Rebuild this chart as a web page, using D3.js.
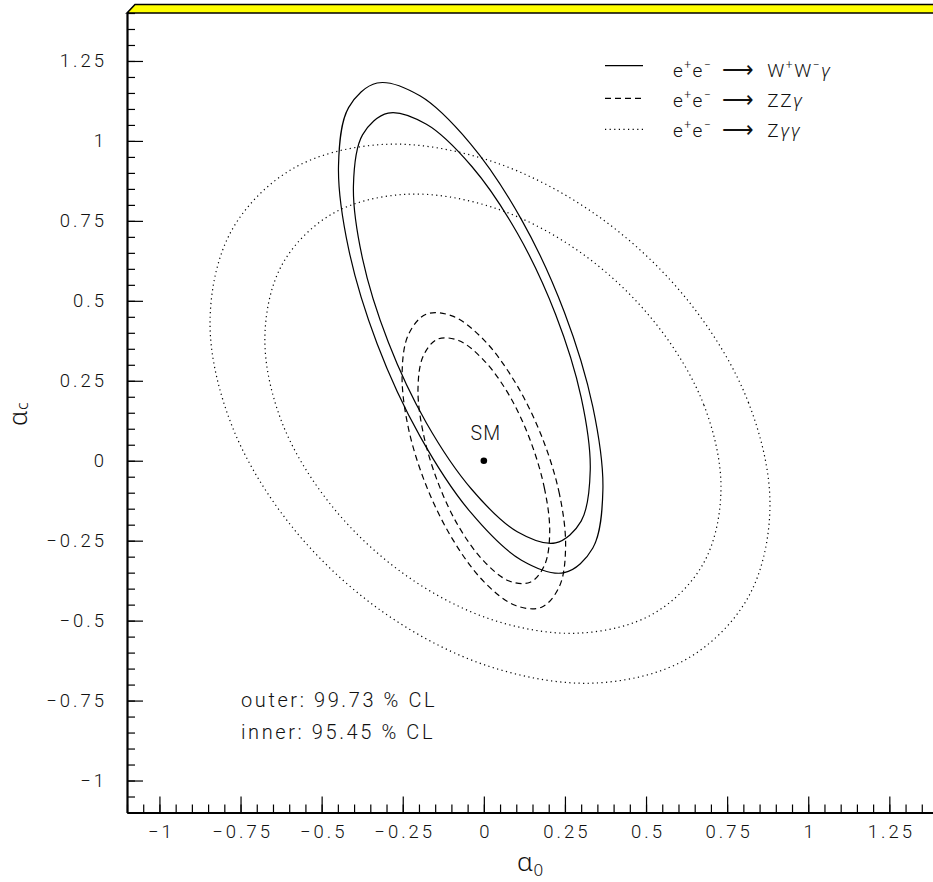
<!DOCTYPE html>
<html>
<head>
<meta charset="utf-8">
<script src="https://cdn.jsdelivr.net/npm/d3@7"></script>
<style>
  body { margin: 0; background: #fff; }
  text { font-family: Roboto, "Liberation Sans", sans-serif; font-weight: 300; fill: #111; }
</style>
</head>
<body>
<svg id="chart" width="933" height="882"></svg>
<script>
// contour points [a0, ac]
const wwOuter = [[0.367,-0.091],[0.336,0.168],[0.248,0.465],[0.116,0.754],[-0.041,0.991],[-0.197,1.141],
  [-0.329,1.181],[-0.417,1.104],[-0.448,0.922],[-0.417,0.663],[-0.329,0.366],[-0.197,0.077],[-0.041,-0.161],
  [0.116,-0.311],[0.248,-0.350],[0.336,-0.273]];
const wwInner = [[0.328,-0.029],[0.300,0.198],[0.221,0.458],[0.103,0.712],[-0.037,0.920],[-0.177,1.052],
  [-0.295,1.087],[-0.374,1.019],[-0.402,0.859],[-0.374,0.632],[-0.295,0.372],[-0.177,0.118],[-0.037,-0.090],
  [0.103,-0.222],[0.221,-0.257],[0.300,-0.189]];
const zzOuter = [[0.252,-0.269],[0.233,-0.104],[0.178,0.077],[0.096,0.246],[0,0.378],[-0.096,0.452],
  [-0.178,0.458],[-0.233,0.393],[-0.252,0.269],[-0.233,0.104],[-0.178,-0.077],[-0.096,-0.246],[0,-0.378],
  [0.096,-0.452],[0.178,-0.458],[0.233,-0.393]];
const zzInner = [[0.203,-0.224],[0.187,-0.087],[0.143,0.064],[0.078,0.205],[0,0.314],[-0.078,0.376],
  [-0.143,0.380],[-0.187,0.327],[-0.203,0.224],[-0.187,0.087],[-0.143,-0.064],[-0.078,-0.205],[0,-0.314],
  [0.078,-0.376],[0.143,-0.380],[0.187,-0.327]];
const zgOuter = [[0.882,-0.144],[0.816,0.181],[0.629,0.501],[0.349,0.767],[0.019,0.938],[-0.311,0.989],
  [-0.591,0.912],[-0.778,0.719],[-0.844,0.438],[-0.778,0.113],[-0.591,-0.207],[-0.311,-0.473],[0.019,-0.644],
  [0.349,-0.695],[0.629,-0.618],[0.816,-0.425]];
const zgInner = [[0.731,-0.090],[0.678,0.175],[0.525,0.435],[0.297,0.652],[0.028,0.792],[-0.241,0.833],
  [-0.469,0.771],[-0.622,0.613],[-0.675,0.384],[-0.622,0.119],[-0.469,-0.141],[-0.241,-0.358],[0.028,-0.498],
  [0.297,-0.539],[0.525,-0.477],[0.678,-0.319]];

const xTicks = [-1, -0.75, -0.5, -0.25, 0, 0.25, 0.5, 0.75, 1, 1.25];
const yTicks = [-1, -0.75, -0.5, -0.25, 0, 0.25, 0.5, 0.75, 1, 1.25];
const smPoint = [0, 0];

// legend: product parts [text, kind]
const products = [
  [["W", ""], ["+", "sup"], ["W", ""], ["\u2212", "sup"], ["\u03b3", "it"]],
  [["ZZ", ""], ["\u03b3", "it"]],
  [["Z", ""], ["\u03b3\u03b3", "it"]]
];
const dashes = [null, "6,4", "1.2,3.4"];
const clLines = ["outer: 99.73 % CL", "inner: 95.45 % CL"];

const svg = d3.select("#chart");
const x = d3.scaleLinear().domain([-1.1, 1.4]).range([127, 938]);
const y = d3.scaleLinear().domain([-1.1, 1.4]).range([812.5, 13]);
const fmt = d => (d < 0 ? "\u2212" : "") + Math.abs(d);

// yellow top of the frame
svg.append("path")
  .attr("d", "M127,13 L135,4.5 L945,4.5 L945,13 Z")
  .attr("fill", "#ffff00").attr("stroke", "black").attr("stroke-width", 1.6);

// contours
const line = d3.line().x(d => x(d[0])).y(d => y(d[1])).curve(d3.curveCatmullRomClosed);
const contours = [
  {pts: wwOuter, dash: dashes[0]}, {pts: wwInner, dash: dashes[0]},
  {pts: zzOuter, dash: dashes[1]}, {pts: zzInner, dash: dashes[1]},
  {pts: zgOuter, dash: dashes[2]}, {pts: zgInner, dash: dashes[2]}
];
svg.append("g").selectAll("path").data(contours).join("path")
  .attr("d", d => line(d.pts))
  .attr("fill", "none").attr("stroke", "black").attr("stroke-width", 1.2)
  .attr("stroke-dasharray", d => d.dash);

// axes: minor ticks, then major ticks with labels, each in its own group
const bottom = y(-1.1), left = x(-1.1);
svg.append("g").attr("transform", `translate(0,${bottom})`)
  .call(d3.axisBottom(x).tickValues(x.ticks(50)).tickSize(-8).tickFormat(""))
  .call(g => g.select(".domain").remove());
svg.append("g").attr("transform", `translate(${left},0)`)
  .call(d3.axisLeft(y).tickValues(y.ticks(50)).tickSize(-8).tickFormat(""))
  .call(g => g.select(".domain").remove());
const xg = svg.append("g").attr("transform", `translate(0,${bottom})`)
  .call(d3.axisBottom(x).tickValues(xTicks).tickSizeInner(-16).tickSizeOuter(0).tickPadding(12).tickFormat(fmt));
const yg = svg.append("g").attr("transform", `translate(${left},0)`)
  .call(d3.axisLeft(y).tickValues(yTicks).tickSizeInner(-16).tickSizeOuter(0).tickPadding(20).tickFormat(fmt));
svg.selectAll(".tick line").attr("stroke", "black").attr("stroke-width", 1.2);
svg.selectAll(".domain").attr("stroke", "black").attr("stroke-width", 2.2);
svg.selectAll(".tick text").attr("font-size", 18.5).attr("letter-spacing", 3)
  .style("font-family", "Roboto, 'Liberation Sans', sans-serif").attr("fill", "#111");
xg.selectAll(".tick text").attr("dx", 1.5);

// axis titles
const xt = svg.append("text").attr("x", 517).attr("y", 871).attr("font-size", 26)
  .style("font-family", "'Noto Sans', Roboto, sans-serif");
xt.append("tspan").text("\u0251");
xt.append("tspan").attr("font-size", 17).attr("dy", 5).attr("dx", 1).text("0");
const yt = svg.append("text").attr("transform", "translate(27,426) rotate(-90)").attr("font-size", 25)
  .style("font-family", "'Noto Sans', Roboto, sans-serif");
yt.append("tspan").text("\u0251");
yt.append("tspan").attr("font-size", 16).attr("dy", 1).attr("dx", 1).text("c");

// SM point
svg.append("circle").attr("cx", x(smPoint[0])).attr("cy", y(smPoint[1])).attr("r", 3.3).attr("fill", "black");
svg.append("text").attr("x", x(smPoint[0]) + 2).attr("y", y(smPoint[1]) - 21)
  .attr("text-anchor", "middle").attr("font-size", 19.5).attr("letter-spacing", 1).text("SM");

// legend
const rowBase = [77, 107, 137];
const rowLine = [65.7, 98.3, 129.3];
products.forEach((parts, i) => {
  svg.append("line").attr("x1", 605).attr("x2", 643).attr("y1", rowLine[i]).attr("y2", rowLine[i])
    .attr("stroke", "black").attr("stroke-width", 1.2).attr("stroke-dasharray", dashes[i]);
  const t = svg.append("text").attr("x", 673).attr("y", rowBase[i]).attr("font-size", 19).attr("letter-spacing", 1.5);
  const addParts = (ps, gap) => {
    let up = false;
    ps.forEach(([s, kind], j) => {
      const sp = t.append("tspan").text(s);
      if (j === 0 && gap) sp.attr("dx", gap);
      if (kind === "sup") {
        sp.attr("font-size", 12).attr("dy", up ? 0 : -8); up = true;
      } else {
        if (up) sp.attr("dy", 8);
        up = false;
        if (kind === "it") sp.attr("font-style", "italic");
      }
    });
  };
  addParts([["e", ""], ["+", "sup"], ["e", ""], ["\u2212", "sup"]]);
  t.append("tspan").attr("dy", 8).attr("dx", 10).attr("font-size", 22).attr("letter-spacing", 0)
    .style("font-family", "'Noto Sans', 'DejaVu Sans', sans-serif").text("\u27f6");
  addParts(parts, 13);
});

// confidence level note
svg.selectAll(".cl").data(clLines).join("text").attr("class", "cl")
  .attr("x", 241).attr("y", (d, i) => 707 + i * 31.5)
  .attr("font-size", 20).attr("letter-spacing", 2.6).text(d => d);
</script>
</body>
</html>
